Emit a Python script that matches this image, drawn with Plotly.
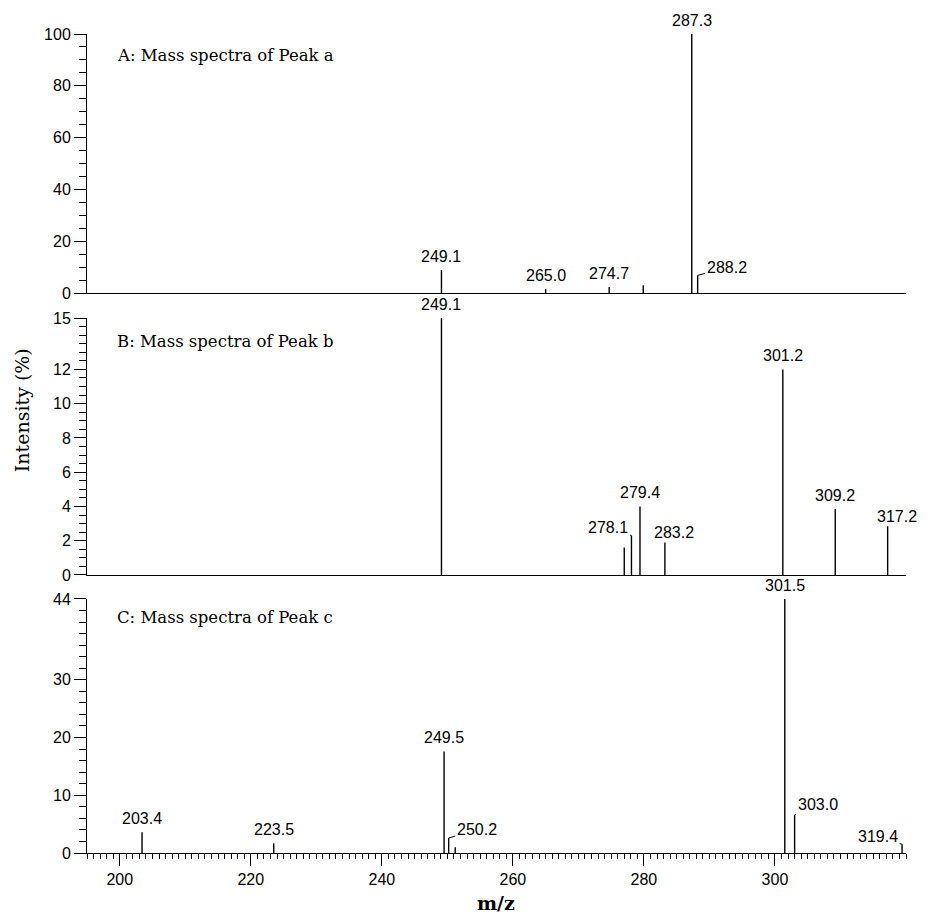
import plotly.graph_objects as go
from plotly.subplots import make_subplots

# ---------------- data ----------------
mz_a = [249.1, 265.0, 274.7, 279.9, 287.3, 288.2]
int_a = [8.9, 1.6, 2.3, 3.0, 100.0, 6.8]
lab_a = ["249.1", "265.0", "274.7", "", "287.3", "288.2"]

mz_b = [249.1, 277.0, 278.1, 279.4, 283.2, 301.2, 309.2, 317.2]
int_b = [15.0, 1.6, 2.3, 4.0, 1.9, 12.0, 3.85, 2.85]
lab_b = ["249.1", "", "278.1", "279.4", "283.2", "301.2", "309.2", "317.2"]

mz_c = [203.4, 223.5, 249.5, 250.2, 251.2, 301.5, 303.0, 319.4]
int_c = [3.6, 1.7, 17.6, 2.6, 1.0, 44.0, 6.6, 1.5]
lab_c = ["203.4", "223.5", "249.5", "250.2", "", "301.5", "303.0", "319.4"]

panel_titles = ["A: Mass spectra of Peak a",
                "B: Mass spectra of Peak b",
                "C: Mass spectra of Peak c"]

y_ranges = [[0, 100], [0, 15], [0, 44]]
y_tickvals = [[0, 20, 40, 60, 80, 100],
              [0, 2, 4, 6, 8, 10, 12, 15],
              [0, 10, 20, 30, 44]]
y_minor = [5, 0.5, 2]
x_range = [195, 320]
x_tickvals = [200, 220, 240, 260, 280, 300]

# ---------------- styling: label leader offsets (pixels) ----------------
LEADERS = {
    (0, "288.2"): (29, -8),
    (1, "278.1"): (-23, -8),
    (1, "283.2"): (9, -10),
    (1, "317.2"): (9, -10),
    (2, "250.2"): (28, -8),
    (2, "303.0"): (23, -10),
    (2, "319.4"): (-24, -8),
}

SANS = "Liberation Sans, Arial, sans-serif"
SERIF = "DejaVu Serif, serif"

fig = make_subplots(rows=3, cols=1, shared_xaxes=True, vertical_spacing=0)

panels = [(mz_a, int_a, lab_a), (mz_b, int_b, lab_b), (mz_c, int_c, lab_c)]
domains = [[0.6627, 0.9692], [0.3290, 0.6331], [0.0, 0.3006]]

annotations = []
for i, (mz, it, lab) in enumerate(panels):
    xs, ys = [], []
    for m, v in zip(mz, it):
        xs += [m, m, None]
        ys += [0, v, None]
    fig.add_trace(go.Scatter(x=xs, y=ys, mode="lines",
                             line=dict(color="black", width=1.4),
                             showlegend=False, hoverinfo="skip"),
                  row=i + 1, col=1)
    sfx = "" if i == 0 else str(i + 1)
    for m, v, t in zip(mz, it, lab):
        if not t:
            continue
        if (i, t) in LEADERS:
            ax, ay = LEADERS[(i, t)]
            annotations.append(dict(x=m, y=v, xref="x" + sfx, yref="y" + sfx,
                                    text=t, showarrow=True, ax=ax, ay=ay,
                                    arrowhead=0, arrowwidth=1, arrowcolor="black",
                                    standoff=0, font=dict(family=SANS, size=16, color="black")))
        else:
            annotations.append(dict(x=m, y=v, xref="x" + sfx, yref="y" + sfx,
                                    text=t, showarrow=False, yanchor="bottom",
                                    yshift=3, font=dict(family=SANS, size=16, color="black")))
    annotations.append(dict(x=0.034, y=[0.919, 0.907, 0.929][i],
                            xref="x" + sfx + " domain", yref="y" + sfx + " domain",
                            text=panel_titles[i], showarrow=False,
                            xanchor="left", yanchor="middle",
                            font=dict(family=SERIF, size=16.5, color="black")))

    fig.update_yaxes(row=i + 1, col=1, domain=domains[i], range=y_ranges[i],
                     tickmode="array", tickvals=y_tickvals[i], automargin=False,
                     showline=True, linecolor="black", linewidth=1,
                     ticks="outside", ticklen=12, tickwidth=1, tickcolor="black",
                     showgrid=False, zeroline=False,
                     tickfont=dict(family=SANS, size=16, color="black"),
                     minor=dict(dtick=y_minor[i], tick0=0, ticks="outside",
                                ticklen=7, tickcolor="black", showgrid=False))
    fig.update_xaxes(row=i + 1, col=1, range=x_range, showline=True, automargin=False,
                     linecolor="black", linewidth=1, showgrid=False, zeroline=False)

fig.update_xaxes(row=1, col=1, ticks="", showticklabels=False)
fig.update_xaxes(row=2, col=1, ticks="", showticklabels=False)
fig.update_xaxes(row=3, col=1, tickmode="array", tickvals=x_tickvals,
                 ticks="outside", ticklen=12, tickwidth=1, tickcolor="black",
                 showticklabels=True,
                 tickfont=dict(family=SANS, size=16, color="black"),
                 minor=dict(dtick=1, tick0=195, ticks="outside", ticklen=5,
                            tickcolor="black", showgrid=False))

annotations.append(dict(x=-0.0794, y=0.524, xref="paper", yref="paper",
                        xanchor="center", yanchor="middle",
                        text="Intensity (%)", textangle=-90, showarrow=False,
                        font=dict(family=SERIF, size=19, color="black")))
annotations.append(dict(x=0.4994, y=-0.0592, xref="paper", yref="paper",
                        xanchor="center", yanchor="middle",
                        text="<b>m/z</b>", showarrow=False,
                        font=dict(family=SERIF, size=19, color="black")))

fig.update_layout(width=930, height=916,
                  margin=dict(l=79, r=32, t=0, b=71),
                  plot_bgcolor="white", paper_bgcolor="white",
                  font=dict(family=SANS, size=16, color="black"),
                  annotations=annotations, showlegend=False)

fig.write_html("out.html")
